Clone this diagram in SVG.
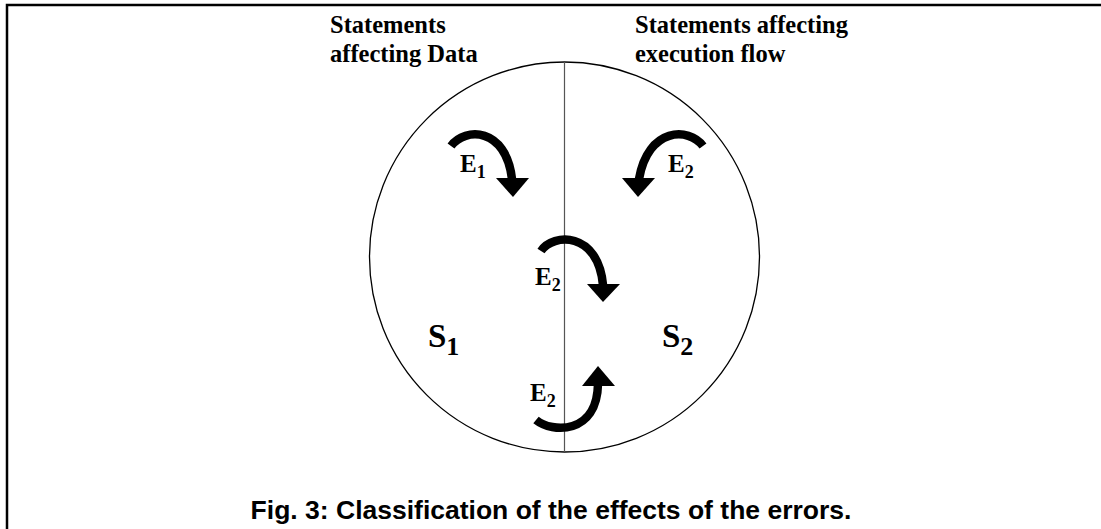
<svg xmlns="http://www.w3.org/2000/svg" width="1101" height="529" viewBox="0 0 1101 529">
<style>
.hdr{font-family:"Liberation Serif",serif;font-weight:bold;font-size:24.5px;fill:#000}
.e{font-family:"Liberation Serif",serif;font-weight:bold;font-size:25px;fill:#000}
.s{font-family:"Liberation Serif",serif;font-weight:bold;font-size:33px;fill:#000}
.cap{font-family:"Liberation Sans",sans-serif;font-weight:bold;font-size:26.5px;fill:#000}
.arc{fill:none;stroke:#000;stroke-width:8.5}
.head{fill:#000}
</style>
<rect width="1101" height="529" fill="#fff"/>
<g id="frame">
<path d="M7,529 V5 H1101" fill="none" stroke="#000" stroke-width="2.5"/>
</g>
<g id="circle">
<circle cx="564.5" cy="257" r="195" fill="none" stroke="#000" stroke-width="1.3"/>
<line x1="564.5" y1="62" x2="564.5" y2="452" stroke="#555" stroke-width="1.2"/>
</g>
<g id="label-data"><text class="hdr" x="330" y="33">Statements</text><text class="hdr" x="330" y="62">affecting Data</text></g>
<g id="label-flow"><text class="hdr" x="635" y="33">Statements affecting</text><text class="hdr" x="635" y="62">execution flow</text></g>
<g id="s1"><text class="s" x="428" y="347">S<tspan font-size="26" dy="8">1</tspan></text></g>
<g id="s2"><text class="s" x="662" y="347">S<tspan font-size="26" dy="8">2</tspan></text></g>
<g id="connectors">
<g id="e1-top-left">
<path class="arc" d="M451,146 C465,127 506,127 512,179"/>
<polygon class="head" points="496,178 529,178 513,197"/>
<text class="e" x="460" y="172">E<tspan font-size="18" dy="6">1</tspan></text>
</g>
<g id="e2-top-right">
<path class="arc" d="M703,146 C689,127 648,127 639,179"/>
<polygon class="head" points="622,178 655,178 638,197"/>
<text class="e" x="668" y="172">E<tspan font-size="18" dy="6">2</tspan></text>
</g>
<g id="e2-middle">
<path class="arc" d="M541,251 C553,233 598,231 603,285"/>
<polygon class="head" points="587,284 620,284 603,302"/>
<text class="e" x="535" y="285">E<tspan font-size="18" dy="6">2</tspan></text>
</g>
<g id="e2-bottom">
<path class="arc" d="M536,420 C552,433 597,435 598,384"/>
<polygon class="head" points="582,386 615,386 598,366"/>
<text class="e" x="530" y="401">E<tspan font-size="18" dy="6">2</tspan></text>
</g>
</g>
<g id="caption"><text class="cap" x="551" y="519" text-anchor="middle">Fig. 3: Classification of the effects of the errors.</text></g>
</svg>
